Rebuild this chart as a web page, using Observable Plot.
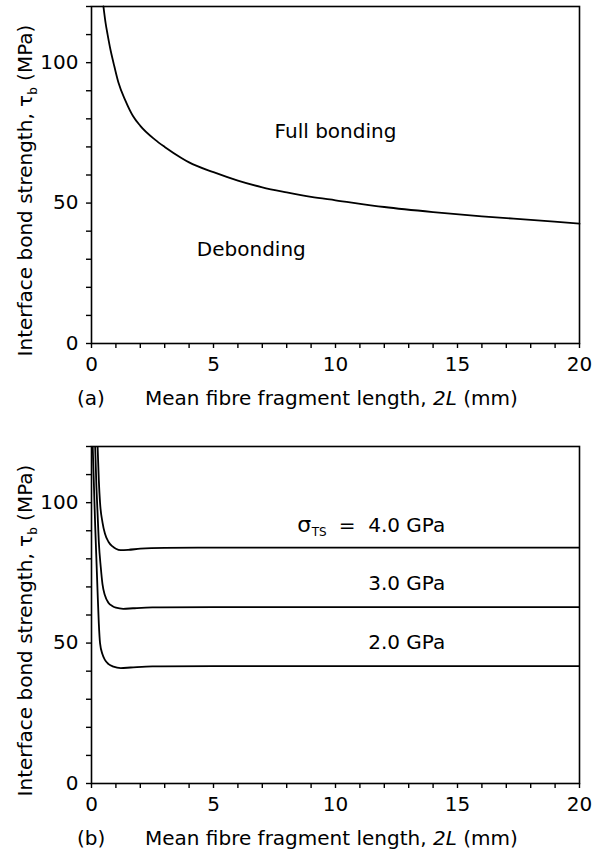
<!DOCTYPE html>
<html><head><meta charset="utf-8">
<script src="https://cdn.jsdelivr.net/npm/d3@7"></script>
<script src="https://cdn.jsdelivr.net/npm/@observablehq/plot@0.6"></script>
<style>
body{margin:0;background:#fff;}
#chart{width:604px;}
#chart svg{display:block;}
</style></head><body><div id="chart"></div>
<script>
// ---- Panel (a): critical bond strength boundary ----
const boundaryX = [0.49, 0.58, 0.66, 0.78, 0.9, 1.1, 1.39, 1.7, 2.0, 2.6, 3.0, 3.7, 4.0, 5.0, 6.0, 7.0, 8.0, 9.0, 10, 12, 14, 16, 18, 20];
const boundaryY = [120, 114, 110, 104.5, 100, 93, 86.5, 81, 77.5, 72.6, 70, 66, 64.5, 61, 58, 55.6, 53.8, 52.2, 51, 48.6, 46.8, 45.3, 44, 42.7];
const regionLabels = ["Full bonding", "Debonding"];
const regionX = [10, 6.55];
const regionY = [75.5, 33.4];

// ---- Panel (b): curves for fibre tensile strength ----
const seriesNames = ["4.0 GPa", "3.0 GPa", "2.0 GPa"];
const s4x = [0.25, 0.3, 0.35, 0.45, 0.55, 0.7, 0.85, 1.0, 1.2, 1.5, 2, 3, 5, 10, 15, 20];
const s4y = [120, 108, 100, 93, 89, 86, 84.5, 83.6, 83.1, 83.2, 83.6, 83.9, 84, 84, 84, 84];
const s3x = [0.15, 0.2, 0.25, 0.3, 0.38, 0.45, 0.55, 0.7, 0.85, 1.0, 1.3, 1.7, 2.5, 5, 10, 15, 20];
const s3y = [120, 106, 96, 86, 77, 71, 67, 64.3, 63.2, 62.6, 62.2, 62.4, 62.7, 62.8, 62.8, 62.8, 62.8];
const s2x = [0.05, 0.1, 0.15, 0.2, 0.25, 0.3, 0.35, 0.45, 0.55, 0.7, 0.9, 1.2, 1.6, 2.5, 5, 10, 15, 20];
const s2y = [120, 106, 92, 80, 68, 57, 50, 46, 44, 42.5, 41.6, 41.1, 41.3, 41.7, 41.8, 41.8, 41.8, 41.8];
const seriesLabels = ["=\u00a0\u00a04.0 GPa", "3.0 GPa", "2.0 GPa"];
const seriesLabelX = [14.5, 14.5, 14.5];
const seriesLabelY = [92, 71.3, 50.2];
const sigmaX = 8.72, sigmaY = 92, subX = 9.33, subY = 89.6;

// ---- Axes ----
const xTicks = d3.range(0, 21, 1);
const xLabelled = [0, 5, 10, 15, 20];
const yTicks = d3.range(0, 121, 10);
const yLabelled = [0, 50, 100];

const FONT = "DejaVu Sans";
const zip = (xs, ys, extra = {}) => xs.map((x, i) => ({x, y: ys[i], ...extra}));

function basePlot({height, marginTop, marginBottom, marks}) {
  return Plot.plot({
    width: 604, height,
    marginLeft: 91, marginRight: 25, marginTop, marginBottom,
    x: {domain: [0, 20]},
    y: {domain: [0, 120]},
    style: {fontFamily: FONT, fontSize: "20px", color: "black", background: "white"},
    marks: [
      Plot.frame({stroke: "black", strokeWidth: 1.6}),
      Plot.axisX({ticks: xTicks, tickFormat: d => xLabelled.includes(d) ? d : "", tickSize: 5, tickPadding: 8, label: null, strokeWidth: 1.4}),
      Plot.axisY({ticks: yTicks, tickFormat: d => yLabelled.includes(d) ? d : "", tickSize: 5, tickPadding: 8, label: null, strokeWidth: 1.4}),
      ...marks
    ]
  });
}

function addLabels(svg, {yCenter, captionY, letter}) {
  const s = d3.select(svg);
  const yl = s.append("text")
    .attr("transform", `translate(32,${yCenter}) rotate(-90)`)
    .attr("text-anchor", "middle")
    .attr("font-family", FONT).attr("font-size", 20).attr("fill", "black");
  yl.append("tspan").text("Interface bond strength, τ");
  yl.append("tspan").attr("font-size", 12).attr("dy", 5).text("b");
  yl.append("tspan").attr("dy", -5).text(" (MPa)");
  s.append("text").attr("x", 77).attr("y", captionY).attr("text-anchor", "start")
    .attr("font-family", FONT).attr("font-size", 20).attr("fill", "black").text(letter);
  const xl = s.append("text").attr("x", 145).attr("y", captionY).attr("text-anchor", "start")
    .attr("font-family", FONT).attr("font-size", 20).attr("fill", "black");
  xl.append("tspan").text("Mean fibre fragment length, ");
  xl.append("tspan").attr("font-style", "italic").text("2L");
  xl.append("tspan").text(" (mm)");
}

const chart = document.getElementById("chart");

// Panel (a)
const plotA = basePlot({
  height: 430, marginTop: 6, marginBottom: 87,
  marks: [
    Plot.line(zip(boundaryX, boundaryY), {x: "x", y: "y", curve: "monotone-x", stroke: "black", strokeWidth: 1.8}),
    Plot.text(regionLabels.map((t, i) => ({t, x: regionX[i], y: regionY[i]})), {x: "x", y: "y", text: "t", fontSize: 20, fill: "black"})
  ]
});
addLabels(plotA, {yCenter: 190.5, captionY: 405, letter: "(a)"});
chart.appendChild(plotA);

// Panel (b)
const seriesData = [
  ...zip(s4x, s4y, {s: seriesNames[0]}),
  ...zip(s3x, s3y, {s: seriesNames[1]}),
  ...zip(s2x, s2y, {s: seriesNames[2]})
];
const plotB = basePlot({
  height: 424, marginTop: 16, marginBottom: 71,
  marks: [
    Plot.line(seriesData, {x: "x", y: "y", z: "s", curve: "monotone-x", stroke: "black", strokeWidth: 1.8, clip: true}),
    Plot.text(seriesLabels.map((t, i) => ({t, x: seriesLabelX[i], y: seriesLabelY[i]})), {x: "x", y: "y", text: "t", textAnchor: "end", fontSize: 20, fill: "black"}),
    Plot.text([{t: "σ", x: sigmaX, y: sigmaY}], {x: "x", y: "y", text: "t", fontSize: 22, fill: "black"}),
    Plot.text([{t: "TS", x: subX, y: subY}], {x: "x", y: "y", text: "t", fontSize: 12, fill: "black"})
  ]
});
addLabels(plotB, {yCenter: 200.5, captionY: 415, letter: "(b)"});
chart.appendChild(plotB);
</script>
</body></html>
